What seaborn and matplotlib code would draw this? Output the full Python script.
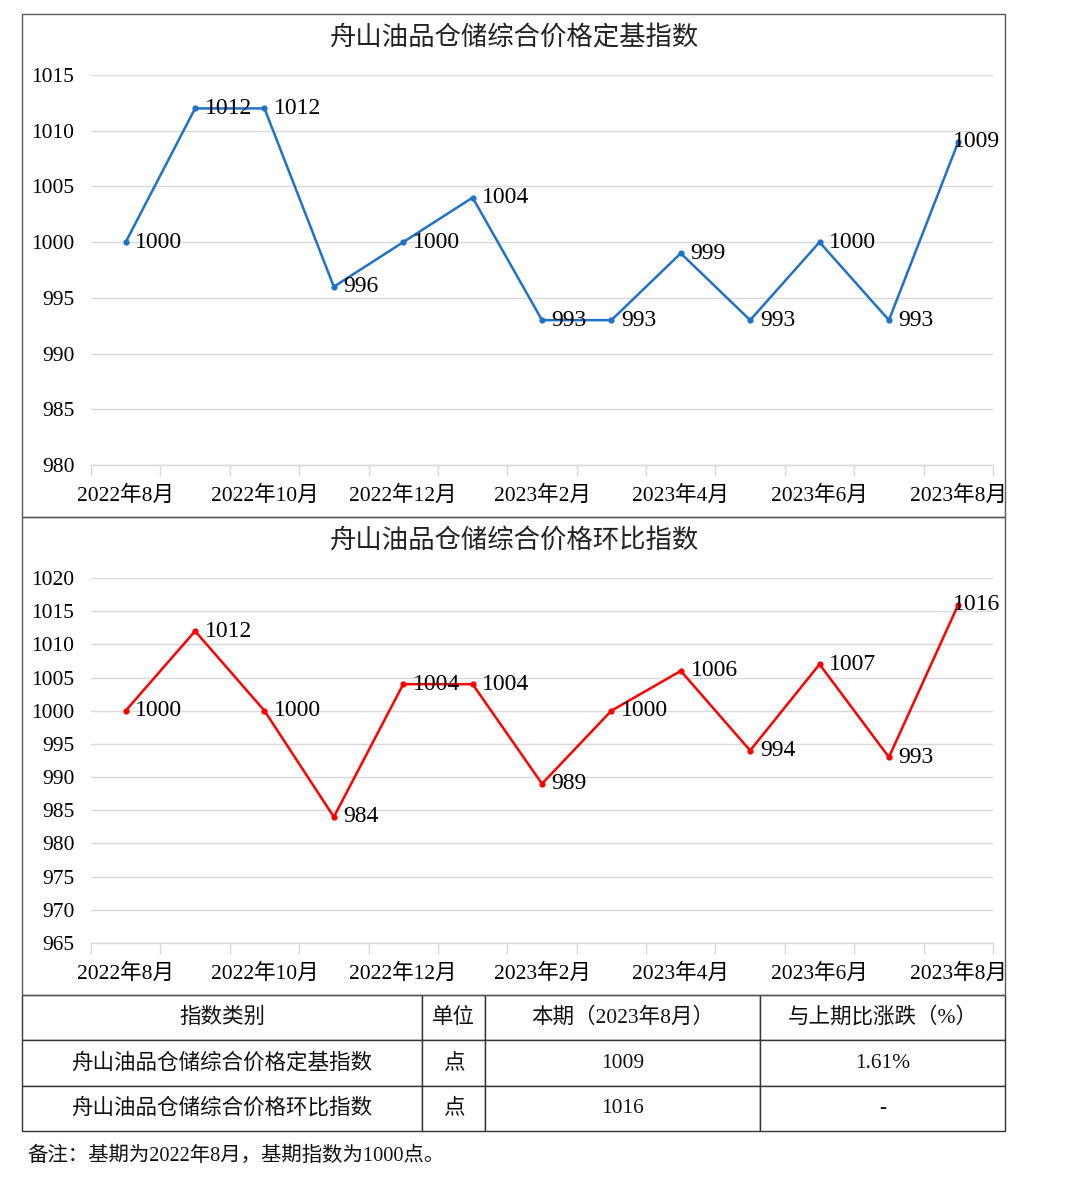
import matplotlib
matplotlib.use("Agg")
import matplotlib.pyplot as plt
from matplotlib.patches import Rectangle
from matplotlib.ticker import FixedLocator
import seaborn as sns
import pandas as pd

# ---------------- data ----------------
months = ["2022年8月", "2022年9月", "2022年10月", "2022年11月", "2022年12月",
          "2023年1月", "2023年2月", "2023年3月", "2023年4月", "2023年5月",
          "2023年6月", "2023年7月", "2023年8月"]
fixed_base = [1000, 1012, 1012, 996, 1000, 1004, 993, 993, 999, 993, 1000, 993, 1009]
chain_index = [1000, 1012, 1000, 984, 1004, 1004, 989, 1000, 1006, 994, 1007, 993, 1016]

title_top = "舟山油品仓储综合价格定基指数"
title_bottom = "舟山油品仓储综合价格环比指数"

table_header = ["指数类别", "单位", "本期（2023年8月）", "与上期比涨跌（%）"]
table_rows = [["舟山油品仓储综合价格定基指数", "点", "1009", "1.61%"],
              ["舟山油品仓储综合价格环比指数", "点", "1016", "-"]]
note = "备注：基期为2022年8月，基期指数为1000点。"

# ---------------- style ----------------
sns.set_theme(style="white")
plt.rcParams["font.family"] = ["Liberation Serif", "Noto Sans CJK SC", "DejaVu Sans"]

W, H = 1080, 1178
fig = plt.figure(figsize=(W / 100, H / 100), dpi=100)
fig.patch.set_facecolor("white")


def px(x0, y0, x1, y1):
    return [x0 / W, 1 - y1 / H, (x1 - x0) / W, (y1 - y0) / H]


def box(x0, y0, x1, y1, color="#595959", lw=1.0):
    l, b, w, h = px(x0, y0, x1, y1)
    fig.patches.append(Rectangle((l, b), w, h, transform=fig.transFigure,
                                 fill=False, edgecolor=color, linewidth=lw, zorder=5))


# chart frames
box(22, 14, 1005, 517)
box(22, 517, 1005, 995)

grid_c = "#d9d9d9"


def draw_chart(rect, values, color, ylim, ystep, title, title_y):
    ax = fig.add_axes(rect)
    df = pd.DataFrame({"x": range(len(values)), "y": values})
    sns.lineplot(data=df, x="x", y="y", ax=ax, color=color, linewidth=1.8,
                 marker="o", markersize=4.5, markeredgewidth=0, zorder=3)
    ax.set_xlim(-0.5, len(values) - 0.5)
    ax.set_ylim(*ylim)
    yt = list(range(ylim[0], ylim[1] + 1, ystep))
    ax.set_yticks(yt)
    ax.set_yticklabels([str(v) for v in yt], fontsize=15.5, color="#000000")
    ax.yaxis.grid(True, color=grid_c, linewidth=1.0)
    ax.xaxis.grid(False)
    ax.tick_params(axis="y", length=0, pad=12)
    ax.set_xticks(list(range(0, len(values), 2)))
    ax.set_xticklabels(months[::2], fontsize=15.5, color="#000000")
    ax.xaxis.set_minor_locator(FixedLocator([i - 0.5 for i in range(len(values) + 1)]))
    ax.tick_params(axis="x", which="major", bottom=False, length=0, pad=15)
    ax.tick_params(axis="x", which="minor", bottom=True, length=8, color=grid_c,
                   width=1.0, direction="out")
    for s in ["left", "right", "top"]:
        ax.spines[s].set_visible(False)
    ax.spines["bottom"].set_color(grid_c)
    ax.spines["bottom"].set_linewidth(1.0)
    ax.set_xlabel("")
    ax.set_ylabel("")
    ax.set_facecolor("none")
    n = len(values)
    for i, v in enumerate(values):
        dx = 7 if i < n - 1 else -4
        ax.annotate(str(v), (i, v), xytext=(dx, 0), textcoords="offset points",
                    ha="left", va="center", fontsize=17, color="#000000",
                    annotation_clip=False, zorder=4)
    fig.text(515 / W, 1 - title_y / H, title, ha="center", va="center",
             fontsize=19, color="#222222")
    return ax


draw_chart(px(91, 75, 993, 465), fixed_base, "#1f72c6", (980, 1015), 5,
           title_top, 38)
draw_chart(px(91, 578, 993, 943), chain_index, "#ff0000", (965, 1020), 5,
           title_bottom, 540)

# ---------------- table ----------------
tax = fig.add_axes(px(22, 995, 1005, 1131))
tax.axis("off")
col_w = [400, 63, 275, 245]
tot = sum(col_w)
tbl = tax.table(cellText=table_rows, colLabels=table_header,
                colWidths=[c / tot for c in col_w], cellLoc="center",
                bbox=[0, 0, 1, 1])
tbl.auto_set_font_size(False)
for (r, c), cell in tbl.get_celld().items():
    cell.set_edgecolor("#333333")
    cell.set_linewidth(1.0)
    cell.get_text().set_fontsize(15.5)
    cell.get_text().set_color("#111111")

fig.text(27 / W, 1 - 1156 / H, note, ha="left", va="center", fontsize=14.7,
         color="#111111")

fig.savefig("out.png", dpi=100, facecolor="white")
